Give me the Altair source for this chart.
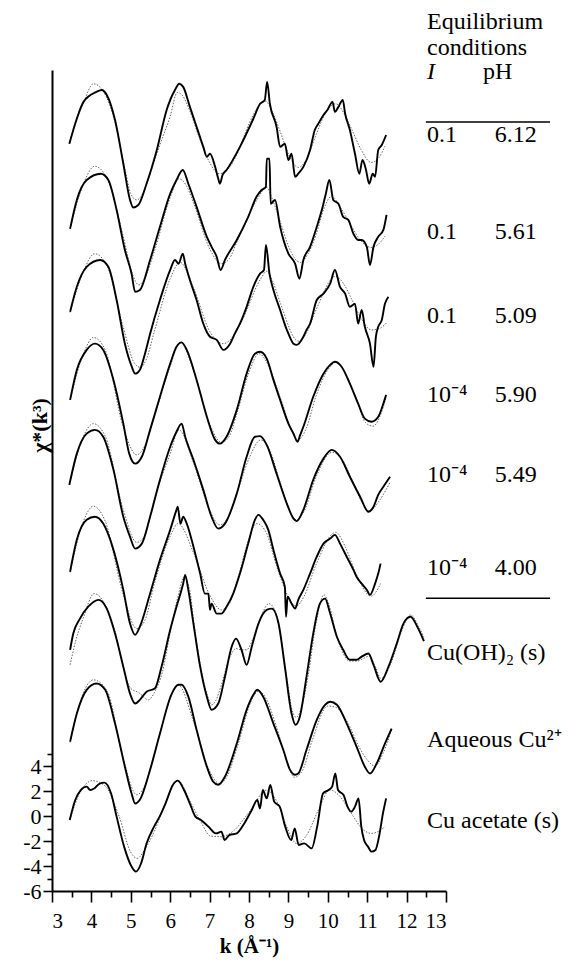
import altair as alt
import pandas as pd

# Stacked EXAFS spectra: (k, chi*k^3 incl. vertical offset).
# exp_* = measured spectrum (solid), fit_* = model fit (thin dotted).

exp_612 = [(3.44, 53.8), (3.63, 55.8), (3.8, 57.15), (4.13, 57.95), (4.26, 58.1), (4.39, 57.7),
           (4.6, 55.7), (4.81, 52.2), (4.98, 49.3), (5.06, 48.7), (5.19, 48.9), (5.4, 50.6),
           (5.66, 53.3), (5.91, 56.5), (6.12, 58.1), (6.23, 58.6), (6.33, 58.35), (6.5, 56.75),
           (6.67, 55.15), (6.84, 53.55), (6.93, 52.75), (7.01, 53.0), (7.14, 51.95), (7.22, 51.0),
           (7.26, 50.6), (7.33, 51.3), (7.43, 51.7), (7.77, 53.55), (8.11, 55.8), (8.28, 57.0),
           (8.4, 57.3), (8.46, 58.75), (8.53, 57.0), (8.7, 55.15), (8.79, 53.55), (8.91, 53.8),
           (9.0, 52.5), (9.08, 53.0), (9.17, 51.15), (9.25, 51.4), (9.38, 51.95), (9.55, 53.3),
           (9.67, 54.9), (9.76, 55.4), (9.89, 56.1), (9.99, 56.5), (10.12, 57.15), (10.18, 56.35),
           (10.27, 56.75), (10.38, 57.3), (10.44, 56.2), (10.56, 54.9), (10.69, 53.0), (10.8, 51.4),
           (10.88, 52.5), (10.97, 51.7), (11.05, 50.6), (11.14, 51.4), (11.2, 51.15), (11.28, 53.3),
           (11.37, 53.7), (11.48, 54.5)]
fit_612 = [(3.44, 53.8), (3.6, 55.6), (3.8, 57.1), (4.05, 58.6), (4.3, 58.0), (4.6, 55.5),
           (4.85, 51.8), (5.0, 49.8), (5.15, 49.3), (5.3, 49.8), (5.5, 51.5), (5.75, 53.8),
           (6.0, 56.0), (6.18, 57.9), (6.3, 57.7), (6.5, 56.4), (6.75, 54.2), (7.0, 52.3),
           (7.25, 51.4), (7.45, 51.7), (7.7, 53.0), (8.0, 55.4), (8.2, 56.6), (8.42, 57.2),
           (8.6, 56.3), (8.8, 54.7), (9.0, 53.0), (9.25, 51.9), (9.45, 52.5), (9.7, 54.5),
           (9.95, 56.3), (10.2, 57.0), (10.4, 56.3), (10.6, 55.0), (10.85, 53.3), (11.1, 52.3),
           (11.3, 52.7), (11.45, 53.6)]

exp_561 = [(3.46, 47.0), (3.63, 49.3), (3.88, 50.9), (4.24, 51.4), (4.43, 50.9), (4.64, 48.5),
           (4.85, 45.3), (5.02, 43.4), (5.11, 41.95), (5.23, 42.1), (5.49, 44.5), (5.74, 47.15),
           (6.0, 49.8), (6.16, 50.9), (6.32, 51.7), (6.46, 50.6), (6.67, 48.75), (6.93, 46.35),
           (7.05, 45.55), (7.18, 44.75), (7.28, 43.7), (7.39, 44.5), (7.69, 46.1), (7.98, 47.95),
           (8.19, 49.55), (8.32, 50.1), (8.43, 50.35), (8.45, 52.6), (8.52, 52.6), (8.55, 49.0),
           (8.66, 49.3), (8.79, 47.15), (9.0, 45.0), (9.17, 44.2), (9.28, 43.0), (9.38, 44.5),
           (9.55, 45.55), (9.72, 47.15), (9.87, 48.75), (9.95, 49.8), (10.04, 50.9), (10.14, 49.3),
           (10.27, 49.0), (10.39, 47.95), (10.52, 47.7), (10.65, 46.6), (10.77, 46.1), (10.86, 46.1),
           (10.99, 45.55), (11.07, 44.1), (11.16, 45.55), (11.28, 46.35), (11.41, 46.9), (11.49, 48.1)]
fit_561 = [(3.46, 47.0), (3.8, 50.6), (4.08, 52.0), (4.4, 51.0), (4.8, 46.5), (5.05, 43.3),
           (5.2, 42.5), (5.35, 43.0), (5.6, 45.2), (6.0, 49.5), (6.22, 51.0), (6.4, 50.5),
           (6.6, 49.0), (7.0, 45.4), (7.3, 44.2), (7.5, 44.6), (7.7, 46.0), (8.2, 49.3),
           (8.45, 50.3), (8.6, 49.3), (8.8, 47.5), (9.0, 45.6), (9.3, 44.3), (9.5, 45.0),
           (9.7, 46.5), (9.9, 48.6), (10.1, 49.6), (10.3, 48.8), (10.6, 47.2), (10.85, 46.0),
           (11.1, 45.5), (11.3, 45.8), (11.45, 46.4)]

exp_509 = [(3.46, 40.35), (3.63, 42.35), (3.88, 43.95), (4.22, 44.5), (4.43, 43.95), (4.64, 41.3),
           (4.85, 37.8), (5.02, 36.0), (5.11, 35.4), (5.23, 35.7), (5.36, 37.0), (5.49, 38.6),
           (5.74, 41.3), (6.0, 43.7), (6.12, 44.5), (6.21, 44.2), (6.32, 45.0), (6.38, 44.2),
           (6.5, 42.9), (6.67, 41.3), (6.84, 39.4), (7.01, 38.35), (7.18, 38.1), (7.35, 37.3),
           (7.52, 37.8), (7.64, 38.6), (7.77, 39.4), (7.94, 40.75), (8.11, 42.35), (8.28, 43.4),
           (8.38, 43.7), (8.43, 45.7), (8.52, 43.4), (8.62, 42.1), (8.79, 40.5), (8.96, 38.9),
           (9.0, 38.6), (9.13, 37.8), (9.21, 37.7), (9.38, 38.35), (9.46, 38.9), (9.55, 39.4),
           (9.72, 41.3), (9.89, 41.8), (10.06, 42.6), (10.18, 43.7), (10.31, 42.35), (10.44, 41.8),
           (10.56, 40.75), (10.69, 41.0), (10.77, 39.4), (10.86, 40.5), (10.94, 39.15), (11.07, 37.8),
           (11.16, 35.95), (11.22, 38.35), (11.28, 39.15), (11.37, 39.7), (11.45, 41.0), (11.54, 41.55)]
fit_509 = [(3.46, 40.3), (3.8, 43.6), (4.08, 45.0), (4.4, 44.0), (4.8, 39.2), (5.1, 36.2),
           (5.25, 35.9), (5.4, 36.6), (5.6, 38.8), (6.0, 43.0), (6.25, 44.3), (6.6, 42.2),
           (7.0, 38.8), (7.35, 37.8), (7.55, 38.2), (7.8, 39.5), (8.3, 43.0), (8.45, 43.6),
           (8.6, 42.8), (8.8, 41.0), (9.25, 38.0), (9.45, 38.6), (9.7, 40.5), (10.2, 43.2),
           (10.4, 42.6), (10.6, 41.4), (10.85, 39.8), (11.1, 38.9), (11.3, 39.0), (11.5, 39.5)]

exp_590 = [(3.46, 33.3), (3.63, 35.7), (3.88, 37.3), (4.09, 37.8), (4.3, 37.3), (4.56, 34.9),
           (4.81, 31.4), (4.96, 29.0), (5.11, 28.2), (5.28, 28.75), (5.49, 30.9), (5.74, 33.55),
           (6.0, 36.2), (6.16, 37.55), (6.29, 37.9), (6.42, 37.3), (6.67, 34.9), (6.93, 31.95),
           (7.14, 30.1), (7.26, 29.8), (7.43, 30.35), (7.69, 32.5), (7.94, 35.4), (8.15, 37.0),
           (8.28, 37.15), (8.45, 36.6), (8.62, 34.9), (8.79, 33.3), (9.0, 31.4), (9.13, 30.6),
           (9.23, 29.95), (9.3, 30.5), (9.38, 31.15), (9.63, 33.55), (9.89, 35.4), (10.06, 36.1),
           (10.18, 36.35), (10.35, 35.95), (10.56, 34.6), (10.77, 33.0), (10.94, 31.8), (11.11, 31.55),
           (11.28, 31.95), (11.41, 33.0), (11.48, 33.7)]
fit_590 = [(3.46, 33.3), (3.8, 37.0), (4.05, 38.3), (4.35, 37.3), (4.8, 31.2), (5.15, 28.9),
           (5.35, 29.6), (5.6, 32.0), (6.0, 36.0), (6.25, 37.9), (6.6, 35.6), (7.0, 31.4),
           (7.3, 29.9), (7.5, 30.4), (7.7, 32.3), (8.0, 35.5), (8.25, 37.0), (8.5, 36.0),
           (8.8, 33.4), (9.25, 30.1), (9.45, 31.0), (9.7, 33.6), (10.0, 35.7), (10.2, 36.3),
           (10.45, 35.4), (10.7, 33.6), (10.95, 31.5), (11.15, 31.2), (11.35, 32.2), (11.48, 33.5)]

exp_549 = [(3.44, 26.5), (3.63, 29.0), (3.88, 30.6), (4.09, 30.9), (4.3, 30.35), (4.56, 27.7),
           (4.81, 23.95), (4.98, 22.35), (5.11, 21.4), (5.28, 21.8), (5.49, 23.95), (5.74, 26.9),
           (6.0, 29.55), (6.16, 30.75), (6.29, 31.4), (6.38, 30.35), (6.59, 28.5), (6.84, 26.1),
           (7.05, 23.95), (7.22, 23.0), (7.39, 23.4), (7.69, 25.8), (7.94, 28.75), (8.15, 30.35),
           (8.28, 30.4), (8.45, 29.7), (8.7, 27.4), (8.96, 25.0), (9.13, 23.8), (9.21, 23.6),
           (9.38, 24.5), (9.63, 26.9), (9.89, 28.6), (10.1, 29.3), (10.31, 28.75), (10.56, 27.15),
           (10.82, 25.55), (11.03, 24.35), (11.16, 24.75), (11.28, 25.7), (11.41, 26.35), (11.58, 27.15)]
fit_549 = [(3.44, 26.5), (3.8, 30.4), (4.05, 31.4), (4.35, 30.4), (4.8, 24.6), (5.15, 21.9),
           (5.35, 22.4), (5.6, 25.4), (6.0, 29.0), (6.22, 30.9), (6.6, 28.2), (7.0, 24.5),
           (7.25, 23.3), (7.45, 23.8), (7.7, 25.9), (8.0, 28.6), (8.3, 30.1), (8.55, 29.1),
           (8.8, 26.6), (9.2, 23.7), (9.4, 24.4), (9.7, 27.1), (10.1, 29.1), (10.35, 28.6),
           (10.6, 27.0), (10.85, 25.2), (11.05, 24.4), (11.3, 25.2), (11.58, 26.7)]

exp_400 = [(3.46, 19.55), (3.63, 22.1), (3.88, 23.7), (4.09, 23.95), (4.3, 23.4), (4.56, 21.3),
           (4.81, 18.1), (4.98, 15.4), (5.11, 14.5), (5.23, 15.15), (5.49, 17.8), (5.74, 20.5),
           (6.0, 22.9), (6.16, 24.5), (6.19, 24.75), (6.26, 23.4), (6.33, 23.95), (6.42, 23.4),
           (6.59, 21.55), (6.76, 19.4), (6.88, 17.8), (6.97, 17.8), (7.01, 16.5), (7.05, 17.0),
           (7.18, 16.2), (7.3, 16.2), (7.43, 16.75), (7.6, 17.8), (7.77, 19.4), (7.98, 21.8),
           (8.15, 23.7), (8.24, 24.1), (8.36, 23.7), (8.49, 22.9), (8.62, 21.3), (8.79, 19.4),
           (8.91, 18.35), (8.94, 15.95), (8.98, 17.55), (9.08, 17.0), (9.17, 16.6), (9.25, 17.3),
           (9.38, 18.1), (9.55, 19.4), (9.72, 20.75), (9.89, 21.8), (10.06, 22.2), (10.18, 22.5),
           (10.31, 21.8), (10.48, 20.75), (10.65, 19.7), (10.73, 19.15), (10.86, 18.6), (10.99, 18.1),
           (11.07, 17.7), (11.2, 18.6), (11.28, 19.4), (11.34, 20.2)]
fit_400 = [(3.46, 19.5), (3.8, 23.6), (4.05, 24.8), (4.35, 23.6), (4.8, 17.8), (5.15, 15.0),
           (5.35, 15.6), (5.6, 18.6), (6.0, 22.4), (6.2, 23.4), (6.6, 21.0), (7.0, 17.7),
           (7.3, 16.5), (7.5, 17.0), (7.7, 18.9), (8.2, 23.4), (8.45, 22.6), (8.7, 20.0),
           (9.2, 16.8), (9.4, 17.6), (9.7, 20.1), (10.2, 22.7), (10.45, 21.5), (10.7, 19.5),
           (11.1, 17.6), (11.34, 18.6)]

exp_oh = [(3.46, 13.3), (3.54, 14.6), (3.71, 15.8), (3.92, 16.75), (4.18, 17.3), (4.39, 16.6),
          (4.6, 14.6), (4.81, 11.95), (4.98, 9.8), (5.11, 9.0), (5.23, 9.3), (5.4, 9.95),
          (5.61, 10.2), (5.78, 11.95), (6.0, 14.9), (6.16, 16.75), (6.33, 18.6), (6.38, 19.3),
          (6.46, 18.1), (6.59, 15.4), (6.76, 11.95), (6.93, 9.55), (7.05, 8.5), (7.22, 9.0),
          (7.39, 11.15), (7.56, 13.55), (7.67, 14.2), (7.81, 13.3), (7.94, 12.1), (8.07, 13.55),
          (8.24, 15.4), (8.45, 16.5), (8.58, 16.6), (8.75, 15.4), (8.91, 11.95), (9.08, 8.2),
          (9.18, 7.3), (9.29, 7.95), (9.46, 11.15), (9.63, 14.6), (9.8, 17.0), (9.93, 17.4),
          (10.06, 16.2), (10.23, 14.35), (10.39, 13.3), (10.56, 12.5), (10.73, 12.5), (10.86, 12.75),
          (11.03, 13.0), (11.16, 12.1), (11.34, 10.75), (11.54, 11.95), (11.75, 13.8), (11.92, 15.4),
          (12.1, 15.95), (12.28, 15.1), (12.44, 14.0)]
fit_oh = [(3.46, 12.1), (3.6, 14.0), (3.8, 15.9), (4.07, 17.8), (4.35, 16.9), (4.6, 14.8),
          (4.8, 12.0), (5.0, 10.2), (5.19, 9.9), (5.45, 9.3), (5.6, 9.9), (5.8, 11.5),
          (6.0, 14.7), (6.2, 17.6), (6.35, 19.1), (6.5, 18.0), (6.6, 15.5), (6.8, 11.5),
          (6.95, 9.6), (7.05, 8.9), (7.15, 9.2), (7.3, 10.5), (7.5, 12.6), (7.67, 13.4),
          (7.8, 13.3), (7.94, 13.3), (8.1, 14.2), (8.3, 15.9), (8.5, 17.0), (8.65, 16.5),
          (8.8, 14.5), (8.95, 11.3), (9.1, 8.4), (9.2, 7.9), (9.35, 8.9), (9.5, 11.2),
          (9.7, 15.4), (9.9, 17.7), (10.05, 16.7), (10.2, 14.7), (10.35, 13.3), (10.55, 12.4),
          (10.75, 12.4), (10.9, 12.6), (11.05, 12.8), (11.2, 12.0), (11.35, 11.0), (11.6, 12.2),
          (11.85, 14.6), (12.1, 16.1), (12.3, 15.2), (12.44, 14.3)]

exp_aq = [(3.46, 5.95), (3.63, 8.2), (3.88, 10.1), (4.13, 10.6), (4.35, 10.1), (4.6, 7.4),
          (4.85, 3.95), (5.02, 1.8), (5.11, 1.0), (5.23, 1.3), (5.49, 3.7), (5.74, 6.6),
          (6.04, 9.8), (6.21, 10.5), (6.29, 10.5), (6.46, 9.55), (6.67, 6.9), (6.93, 3.95),
          (7.09, 2.75), (7.22, 2.5), (7.39, 3.15), (7.69, 5.8), (7.94, 8.5), (8.11, 9.7),
          (8.21, 10.1), (8.36, 9.55), (8.62, 7.4), (8.87, 5.3), (9.04, 3.7), (9.17, 3.3),
          (9.25, 3.4), (9.46, 5.3), (9.72, 7.7), (9.93, 8.9), (10.06, 9.15), (10.23, 8.9),
          (10.48, 7.4), (10.73, 5.55), (10.94, 3.95), (11.07, 3.4), (11.24, 4.2), (11.45, 5.8),
          (11.62, 7.0)]
fit_aq = [(3.46, 5.9), (3.8, 9.9), (4.05, 10.9), (4.4, 10.0), (4.8, 4.7), (5.15, 1.7),
          (5.35, 2.4), (5.6, 5.0), (6.0, 9.4), (6.2, 10.5), (6.6, 7.5), (7.0, 3.6),
          (7.25, 2.6), (7.45, 3.2), (7.7, 5.5), (8.1, 9.5), (8.25, 10.0), (8.45, 9.3),
          (8.7, 7.1), (8.95, 4.5), (9.15, 3.1), (9.35, 3.6), (9.6, 6.0), (10.0, 8.8),
          (10.2, 8.7), (10.5, 7.5), (10.8, 5.5), (11.0, 4.5), (11.2, 4.0), (11.4, 5.0),
          (11.62, 6.9)]

exp_ac = [(3.45, -0.32), (3.59, 1.28), (3.73, 2.08), (3.88, 2.35), (3.97, 2.08), (4.07, 2.2),
          (4.21, 2.6), (4.33, 2.67), (4.5, 1.8), (4.64, -0.05), (4.83, -2.45), (5.02, -4.05),
          (5.13, -4.45), (5.26, -3.8), (5.4, -2.2), (5.59, -0.85), (5.73, -0.05), (5.88, 1.0),
          (6.07, 2.5), (6.19, 2.83), (6.35, 2.08), (6.5, 1.0), (6.64, -0.05), (6.78, -0.32),
          (6.97, -0.85), (7.16, -1.39), (7.3, -1.25), (7.38, -1.92), (7.5, -1.52), (7.69, -1.39),
          (7.88, -0.59), (8.07, 0.48), (8.21, 1.28), (8.28, 0.61), (8.35, 2.08), (8.45, 1.41),
          (8.54, 2.48), (8.64, 1.15), (8.78, 0.75), (8.92, -0.85), (9.07, -1.92), (9.16, -0.99),
          (9.26, -2.32), (9.4, -2.19), (9.59, -2.59), (9.73, -0.85), (9.88, 1.81), (10.02, 2.08),
          (10.11, 2.35), (10.19, 3.41), (10.26, 2.08), (10.4, 1.68), (10.5, 0.75), (10.59, 0.35),
          (10.69, 0.75), (10.78, 1.41), (10.85, -0.85), (10.92, -1.92), (11.02, -2.45), (11.11, -2.85),
          (11.21, -2.72), (11.3, -1.65), (11.4, 0.21), (11.48, 1.41)]
fit_ac = [(3.45, -0.3), (3.7, 1.8), (4.02, 2.83), (4.35, 2.4), (4.7, 0.0), (5.0, -2.9),
          (5.16, -3.39), (5.35, -2.7), (5.6, -1.2), (5.9, 1.2), (6.2, 2.85), (6.5, 1.2),
          (6.8, -0.6), (7.02, -1.6), (7.3, -1.65), (7.6, -1.2), (8.0, 0.3), (8.45, 2.08),
          (8.7, 1.2), (8.95, -0.8), (9.21, -2.2), (9.45, -1.6), (9.75, 0.4), (10.05, 2.1),
          (10.3, 1.6), (10.6, 0.2), (10.9, -1.1), (11.11, -1.39), (11.3, -1.2), (11.45, -0.85)]

spectra = [
    ("I=0.1 pH 6.12", exp_612, fit_612),
    ("I=0.1 pH 5.61", exp_561, fit_561),
    ("I=0.1 pH 5.09", exp_509, fit_509),
    ("I=1e-4 pH 5.90", exp_590, fit_590),
    ("I=1e-4 pH 5.49", exp_549, fit_549),
    ("I=1e-4 pH 4.00", exp_400, fit_400),
    ("Cu(OH)2", exp_oh, fit_oh),
    ("Aqueous", exp_aq, fit_aq),
    ("Cu acetate", exp_ac, fit_ac),
]

# Right-hand annotation column
ionic_strength = ["0.1", "0.1", "0.1", "10⁻⁴", "10⁻⁴", "10⁻⁴"]
ph_values = ["6.12", "5.61", "5.09", "5.90", "5.49", "4.00"]
reference_names = ["Cu(OH)₂ (s)", "Aqueous Cu²⁺", "Cu  acetate (s)"]

# label anchors in data units (k, chi)
col_i, col_ph = 12.52, 14.24
row_chi = [53.94, 46.14, 39.42, 33.14, 26.74, 19.28]
ref_chi = [12.48, 5.54, -0.98]

FONT = "Liberation Serif"


def _spectra_frame():
    rows = []
    for name, measured, fitted in spectra:
        for kind, pts in (("fit", fitted), ("data", measured)):
            for i, (k, chi) in enumerate(pts):
                rows.append({"curve": name, "kind": kind, "k": k, "chi": chi, "i": i})
    return pd.DataFrame(rows)


def _label_frame():
    rows = [{"text": "Equilibrium", "k": col_i, "chi": 62.96},
            {"text": "conditions", "k": col_i, "chi": 60.9},
            {"text": "pH", "k": 13.94, "chi": 58.96}]
    for i_txt, ph, c in zip(ionic_strength, ph_values, row_chi):
        rows.append({"text": i_txt, "k": col_i, "chi": c})
        rows.append({"text": ph, "k": col_ph, "chi": c})
    for name, c in zip(reference_names, ref_chi):
        rows.append({"text": name, "k": col_i, "chi": c})
    return pd.DataFrame(rows)


x_scale = alt.Scale(domain=[3, 13], nice=False, zero=False)
y_scale = alt.Scale(domain=[-6, 59.7], nice=False, zero=False)

x_axis = alt.Axis(
    values=[3 + 0.5 * i for i in range(21)],
    labelExpr="datum.value % 1 == 0 ? toString(datum.value) : ''",
    tickSize={"condition": {"test": "datum.value % 1 == 0", "value": 11}, "value": 6},
    labelPadding=8,
    labelFontSize=21,
    title="k  (Å⁻¹)",
    titleFontSize=21,
    titleBaseline="alphabetic",
    titleY=61,
)
y_axis = alt.Axis(
    values=list(range(-6, 6)),
    labelExpr="datum.value % 2 == 0 ? toString(datum.value) : ''",
    tickSize={"condition": {"test": "datum.value % 2 == 0", "value": 9}, "value": 5},
    labelPadding=2,
    title="χ*(k³)",
    titleBaseline="alphabetic",
    titleAlign="center",
    titleX=-6,
    titleY=355,
)

X = alt.X("k:Q", scale=x_scale, axis=x_axis)
Y = alt.Y("chi:Q", scale=y_scale, axis=y_axis)

base = alt.Chart(_spectra_frame()).encode(x=X, y=Y, detail="curve:N", order="i:Q")

fits = base.transform_filter(alt.datum.kind == "fit").mark_line(
    color="#555555", strokeWidth=0.9, strokeDash=[1.5, 1.5], interpolate="monotone"
)
measured = base.transform_filter(alt.datum.kind == "data").mark_line(
    color="black", strokeWidth=1.9, interpolate="monotone"
)

labels = alt.Chart(_label_frame()).mark_text(
    align="left", baseline="alphabetic", font=FONT, fontSize=24, color="black"
).encode(x=X, y=Y, text="text:N")

ionic_header = alt.Chart(pd.DataFrame({"text": ["I"], "k": [col_i], "chi": [58.96]})).mark_text(
    align="left", baseline="alphabetic", font=FONT, fontSize=24, fontStyle="italic", color="black"
).encode(x=X, y=Y, text="text:N")

table_rules = alt.Chart(pd.DataFrame({"k": [12.49, 12.49], "k2": [15.64, 15.64], "chi": [55.54, 17.42]})).mark_rule(
    color="black", strokeWidth=1.5
).encode(x=X, x2="k2:Q", y=Y)

chart = alt.layer(fits, measured, labels, ionic_header, table_rules).properties(
    width=394,
    height=821,
    autosize=alt.AutoSizeParams(type="none"),
    padding={"left": 44, "top": 62, "right": 122, "bottom": 69},
).configure_view(
    stroke=None
).configure_axis(
    grid=False,
    domainColor="black",
    domainWidth=2,
    tickColor="black",
    tickWidth=1.6,
    labelFont=FONT,
    labelFontSize=22,
    labelColor="black",
    titleFont=FONT,
    titleFontSize=22,
    titleFontWeight="bold",
    titleColor="black",
)

chart.save("out.html", embed_options={"renderer": "svg", "actions": False})
